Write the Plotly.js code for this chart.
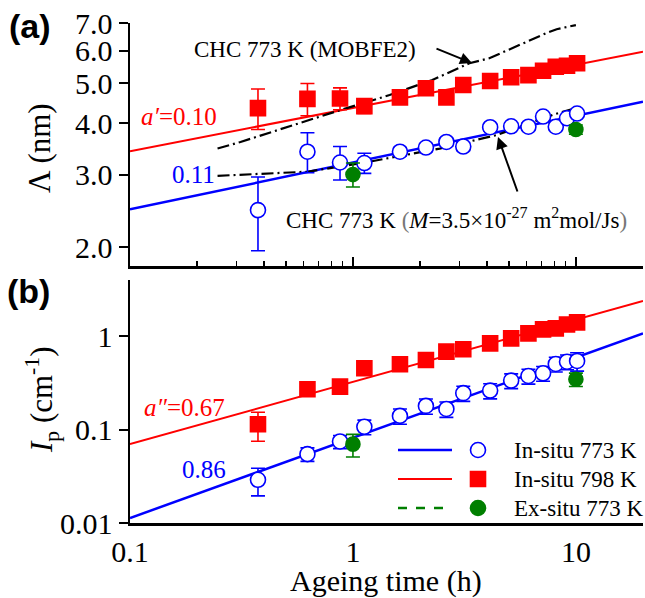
<!DOCTYPE html>
<html><head><meta charset="utf-8">
<script src="https://cdn.plot.ly/plotly-3.0.1.min.js"></script>
<style>html,body{margin:0;padding:0;background:#fff}#chart{width:645px;height:598px}</style>
</head><body><div id="chart"></div>
<script>
// ---------- data ----------
const timeInsitu = [0.375, 0.625, 0.875, 1.125, 1.625, 2.125, 2.625, 3.125, 4.125, 5.125, 6.125, 7.125, 8.125, 9.125, 10.125];
const timeExsitu = [1, 10];

// (a) characteristic length Λ (nm)
const lamRed  = [4.35, 4.58, 4.59, 4.40, 4.62, 4.86, 4.62, 4.95, 5.06, 5.17, 5.23, 5.36, 5.48, 5.51, 5.59];
const lamRedErr = [0.49, 0.41, 0.28, 0.18, 0.1, 0.1, 0.1, 0.1, 0.1, 0.1, 0.1, 0.1, 0.1, 0.1, 0.1];
const lamBlue = [2.46, 3.41, 3.21, 3.20, 3.41, 3.49, 3.60, 3.51, 3.91, 3.93, 3.92, 4.15, 3.92, 4.11, 4.22];
const lamBlueErr = [0.5, 0.38, 0.3, 0.18, 0.08, 0.08, 0.08, 0.08, 0.08, 0.08, 0.08, 0.08, 0.08, 0.08, 0.08];
const lamGreen = [3.00, 3.86];
const lamGreenErr = [0.2, 0.1];

// (b) peak intensity Ip (cm^-1)
const ipRed  = [0.114, 0.270, 0.288, 0.453, 0.499, 0.555, 0.681, 0.722, 0.836, 0.946, 1.07, 1.18, 1.21, 1.33, 1.40];
const ipRedErr = [0.039, 0.02, 0.03, 0.03, 0.03, 0.03, 0.04, 0.04, 0.05, 0.05, 0.06, 0.06, 0.06, 0.07, 0.07];
const ipBlue = [0.029, 0.0546, 0.0745, 0.107, 0.140, 0.179, 0.166, 0.245, 0.261, 0.334, 0.374, 0.400, 0.503, 0.532, 0.542];
const ipBlueErr = [0.0095, 0.009, 0.012, 0.019, 0.026, 0.033, 0.031, 0.045, 0.048, 0.06, 0.068, 0.072, 0.09, 0.095, 0.12];
const ipGreen = [0.0698, 0.345];
const ipGreenErr = [0.019, 0.056];

// power-law fit lines (end points)
const fitTime = [0.1, 20];
const fitLamRed = [3.42, 5.96];
const fitLamBlue = [2.47, 4.51];
const fitIpRed = [0.0698, 2.38];
const fitIpBlue = [0.0113, 1.07];

// CHC simulations
const chcMobTime = [0.247, 0.313, 0.875, 1.46, 2.27, 3.33, 4.09, 5.56, 7.35, 8.2, 10];
const chcMobLam  = [3.47, 3.60, 4.30, 4.68, 5.09, 5.59, 5.75, 6.19, 6.61, 6.76, 6.92];
const chcMTime = [0.247, 0.63, 1.17, 2.45, 4.4, 6.2, 8.1, 10];
const chcMLam  = [2.98, 3.05, 3.22, 3.47, 3.74, 3.99, 4.21, 4.35];

// ticks
const xMajor = [0.1, 1, 10];
const xMajorText = ['0.1', '1', '10'];
const xMinor = [0.2,0.3,0.4,0.5,0.6,0.7,0.8,0.9,2,3,4,5,6,7,8,9];
const lamTicks = [2, 3, 4, 5, 6, 7];
const lamTickText = ['2.0', '3.0', '4.0', '5.0', '6.0', '7.0'];
const ipTicks = [0.01, 0.1, 1];
const ipTickText = ['0.01', '0.1', '1'];

// ---------- styling ----------
const BLUE = '#0000ff', RED = '#ff0000', GREEN = '#007f00';
const SERIF = 'Liberation Serif';
const L = 130, T = 23, W = 513, H = 500;
const px = x => (x - L) / W;
const py = y => (T + H - y) / H;

function fit(x, y, color, xa, ya, w) {
  return {x, y, xaxis: xa, yaxis: ya, mode: 'lines', line: {color, width: w}, hoverinfo: 'skip'};
}
function pts(x, y, e, sym, fill, lineColor, xa, ya, size) {
  return {x, y, xaxis: xa, yaxis: ya, mode: 'markers',
    marker: {symbol: sym, size: size, color: fill, line: {color: lineColor, width: 1.6}},
    error_y: {type: 'data', array: e, visible: true, color: lineColor, thickness: 1.6, width: 7}};
}
function dashdot(x, y, xa, ya) {
  return {x, y, xaxis: xa, yaxis: ya, mode: 'lines', line: {color: 'black', width: 2.2, dash: '12px,4px,2px,4px'}};
}

const traces = [
  fit(fitTime, fitLamRed, RED, 'x2', 'y2', 2),
  fit(fitTime, fitLamBlue, BLUE, 'x2', 'y2', 2.5),
  dashdot(chcMobTime, chcMobLam, 'x2', 'y2'),
  dashdot(chcMTime, chcMLam, 'x2', 'y2'),
  pts(timeInsitu, lamRed, lamRedErr, 'square', RED, RED, 'x2', 'y2', 15),
  pts(timeInsitu, lamBlue, lamBlueErr, 'circle', 'white', BLUE, 'x2', 'y2', 15),
  pts(timeExsitu, lamGreen, lamGreenErr, 'circle', GREEN, GREEN, 'x2', 'y2', 14),
  fit(fitTime, fitIpRed, RED, 'x', 'y', 2),
  fit(fitTime, fitIpBlue, BLUE, 'x', 'y', 2.5),
  pts(timeInsitu, ipRed, ipRedErr, 'square', RED, RED, 'x', 'y', 15),
  pts(timeInsitu, ipBlue, ipBlueErr, 'circle', 'white', BLUE, 'x', 'y', 15),
  pts(timeExsitu, ipGreen, ipGreenErr, 'circle', GREEN, GREEN, 'x', 'y', 14)
];

const xRange = [-1, Math.log10(20)];
const tickFont = {family: SERIF, size: 30, color: 'black'};
function xax(extra) {
  return Object.assign({type: 'log', range: xRange, showgrid: false, zeroline: false,
    showline: true, linecolor: 'black', linewidth: 2.5,
    tickmode: 'array', tickvals: xMajor, ticktext: xMajorText, ticklen: 9, tickwidth: 2, tickcolor: 'black',
    tickfont: tickFont, showticklabels: false,
    minor: {tickvals: xMinor, ticklen: 5, tickwidth: 1.5, tickcolor: 'black', ticks: 'inside'}}, extra);
}
function yax(extra) {
  return Object.assign({type: 'log', showgrid: false, zeroline: false,
    showline: true, linecolor: 'black', linewidth: 2.5,
    tickmode: 'array', ticklen: 9, tickwidth: 2, tickcolor: 'black', tickfont: tickFont}, extra);
}

const layout = {
  width: 645, height: 598,
  margin: {l: L, r: 2, t: T, b: 598 - T - H},
  paper_bgcolor: 'white', plot_bgcolor: 'white',
  showlegend: false,
  font: {family: SERIF, color: 'black'},
  // base axis carries the labels only (no ticks), so they sit close to the line
  xaxis: xax({anchor: 'y', ticks: '', showticklabels: true, minor: {ticks: ''}}),
  // overlay draws the outside ticks
  xaxis5: xax({anchor: 'y', overlaying: 'x', side: 'bottom', ticks: 'outside', showline: false,
    minor: {tickvals: xMinor, ticklen: 5, tickwidth: 1.5, tickcolor: 'black', ticks: 'outside'}}),
  xaxis3: xax({anchor: 'y', overlaying: 'x', side: 'top', ticks: 'inside'}),
  xaxis2: xax({anchor: 'y2', ticks: 'inside'}),
  xaxis4: xax({anchor: 'y2', overlaying: 'x2', side: 'top', ticks: 'inside'}),
  yaxis: yax({domain: [0, 0.486], anchor: 'x', range: [-2, 0.6], tickvals: ipTicks, ticktext: ipTickText, ticks: 'outside'}),
  yaxis3: yax({domain: [0, 0.486], anchor: 'x', overlaying: 'y', side: 'right', range: [-2, 0.6], tickvals: ipTicks, ticks: 'inside', showticklabels: false}),
  yaxis2: yax({domain: [0.514, 1], anchor: 'x2', range: [Math.log10(1.8), Math.log10(7)], tickvals: lamTicks, ticktext: lamTickText, ticks: 'outside'}),
  yaxis4: yax({domain: [0.514, 1], anchor: 'x2', overlaying: 'y2', side: 'right', range: [Math.log10(1.8), Math.log10(7)], tickvals: lamTicks, ticks: 'inside', showticklabels: false}),
  annotations: [],
  shapes: []
};

const A = layout.annotations, S = layout.shapes;
function txt(x, y, text, size, color, opts) {
  A.push(Object.assign({xref: 'paper', yref: 'paper', x: px(x), y: py(y), text, showarrow: false,
    font: {family: SERIF, size, color: color || 'black'}, xanchor: 'center', yanchor: 'middle'}, opts || {}));
}
// panel labels
txt(30, 26, '<b>(a)</b>', 34, 'black', {font: {family: 'Liberation Sans', size: 34, color: 'black'}});
txt(28, 291, '<b>(b)</b>', 34, 'black', {font: {family: 'Liberation Sans', size: 34, color: 'black'}});
// axis titles
txt(39, 148, 'Λ (nm)', 31, 'black', {textangle: -90});
txt(42, 400, '<i>I</i><sub>p</sub> (cm<sup>-1</sup>)', 31, 'black', {textangle: -90});
txt(386, 581, 'Ageing time (h)', 30);
// labels
txt(192, 49, 'CHC 773 K (MOBFE2)', 23, 'black', {xanchor: 'left'});
txt(284, 218, "CHC 773 K <span style='color:#777'>(</span><i>M</i>=3.5×10<sup>-27</sup> m<sup>2</sup>mol/Js<span style='color:#777'>)</span>", 23, 'black', {xanchor: 'left'});
txt(139, 116, '<i>a′</i>=0.10', 25, RED, {xanchor: 'left'});
txt(170, 174, '0.11', 25, BLUE, {xanchor: 'left'});
txt(142, 407, '<i>a″</i>=0.67', 25, RED, {xanchor: 'left'});
txt(180, 469, '0.86', 25, BLUE, {xanchor: 'left'});
// arrows
A.push({xref: 'paper', yref: 'paper', x: px(472), y: py(63), ax: -37, ay: -15, text: '', showarrow: true,
  arrowhead: 2, arrowsize: 1.2, arrowwidth: 2, arrowcolor: 'black', standoff: 0});
A.push({xref: 'paper', yref: 'paper', x: px(498), y: py(137), ax: 20, ay: 56, text: '', showarrow: true,
  arrowhead: 2, arrowsize: 1.2, arrowwidth: 2, arrowcolor: 'black', standoff: 0});

// legend (drawn)
const legRows = [
  {y: 450, color: BLUE, dash: 'solid', w: 2.5, text: 'In-situ 773 K', mark: 'circle', fill: 'white'},
  {y: 479, color: RED, dash: 'solid', w: 2, text: 'In-situ 798 K', mark: 'rect', fill: RED},
  {y: 508, color: GREEN, dash: 'dash', w: 2.5, text: 'Ex-situ 773 K', mark: 'circle', fill: GREEN}
];
legRows.forEach(r => {
  S.push({type: 'line', xref: 'paper', yref: 'paper', x0: px(398), x1: px(452), y0: py(r.y), y1: py(r.y),
    line: {color: r.color, width: r.w, dash: r.dash}});
  const h = 7.5;
  S.push({type: r.mark, xref: 'paper', yref: 'paper', x0: px(478 - h), x1: px(478 + h), y0: py(r.y + h), y1: py(r.y - h),
    fillcolor: r.fill, line: {color: r.color, width: 1.6}});
  txt(512, r.y, r.text, 23, 'black', {xanchor: 'left'});
});

Plotly.newPlot('chart', traces, layout, {staticPlot: true});
</script></body></html>
